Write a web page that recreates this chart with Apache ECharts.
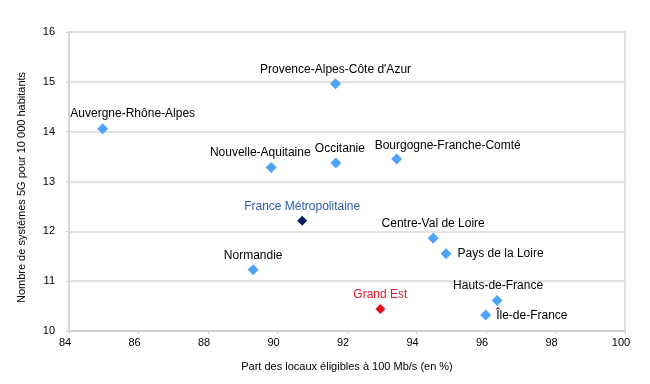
<!DOCTYPE html>
<html>
<head>
<meta charset="utf-8">
<script src="https://cdn.jsdelivr.net/npm/echarts@6/dist/echarts.min.js"></script>
<style>html,body{margin:0;padding:0;background:#fff}#c{width:650px;height:384px}</style>
</head>
<body>
<div id="c"></div>
<script>
const regions = ["Auvergne-Rhône-Alpes","Provence-Alpes-Côte d'Azur","Nouvelle-Aquitaine","Occitanie","Bourgogne-Franche-Comté","France Métropolitaine","Centre-Val de Loire","Pays de la Loire","Normandie","Hauts-de-France","Grand Est","Île-de-France"];
const eligible = [84.97, 91.67, 89.82, 91.68, 93.43, 90.71, 94.48, 94.85, 89.30, 96.32, 92.96, 95.99];
const systems5G = [14.06, 14.96, 13.28, 13.37, 13.45, 12.21, 11.86, 11.55, 11.23, 10.61, 10.44, 10.32];
const xTicks = [84, 86, 88, 90, 92, 94, 96, 98, 100];
const yTicks = [10, 11, 12, 13, 14, 15, 16];

// styling (not data)
const FONT = '"Liberation Sans", Arial, sans-serif';
const BLUE = '#4da3f7';
const special = {
  "France Métropolitaine": {marker: '#0b1f5e', text: '#2f5aa8'},
  "Grand Est": {marker: '#e3101c', text: '#e8192c'}
};
const labelTweaks = {
  "Auvergne-Rhône-Alpes": {offset: [30, 0]},
  "Nouvelle-Aquitaine": {offset: [-11, 0]},
  "Occitanie": {offset: [4, 0]},
  "Bourgogne-Franche-Comté": {offset: [51, 1]},
  "Pays de la Loire": {position: 'right', distance: 6, offset: [0, 0]},
  "Île-de-France": {position: 'right', distance: 5, offset: [0, 1]},
  "Hauts-de-France": {offset: [1, 0]}
};

const points = regions.map((name, i) => {
  const sp = special[name];
  const tw = labelTweaks[name] || {};
  return {
    name: name,
    value: [eligible[i], systems5G[i]],
    symbolSize: sp ? 10 : 11,
    itemStyle: {color: sp ? sp.marker : BLUE, opacity: 1},
    label: {
      show: true,
      formatter: name,
      position: tw.position || 'top',
      distance: tw.distance !== undefined ? tw.distance : 3,
      offset: tw.offset || [0, 0],
      color: sp ? sp.text : '#000',
      fontSize: 12,
      fontFamily: FONT
    }
  };
});

const chart = echarts.init(document.getElementById('c'), null, {renderer: 'canvas'});
chart.setOption({
  animation: false,
  backgroundColor: '#fff',
  grid: {left: 69, right: 25, top: 32, bottom: 53, show: true, borderColor: '#d9d9d9', borderWidth: 1.5, backgroundColor: 'transparent'},
  xAxis: {
    type: 'value', min: xTicks[0], max: xTicks[xTicks.length - 1], interval: 2,
    name: 'Part des locaux éligibles à 100 Mb/s (en %)',
    nameLocation: 'middle', nameGap: 30,
    nameTextStyle: {fontSize: 11, fontFamily: FONT, color: '#000'},
    axisLine: {show: true, lineStyle: {color: '#d0d0d0', width: 1.5}},
    axisTick: {show: true, length: 3, lineStyle: {color: '#d0d0d0'}},
    axisLabel: {fontSize: 11, fontFamily: FONT, color: '#000', margin: 6, padding: [0, 8, 0, 0]},
    splitLine: {show: false}
  },
  yAxis: {
    type: 'value', min: yTicks[0], max: yTicks[yTicks.length - 1], interval: 1,
    name: 'Nombre de systèmes 5G pour 10 000 habitants',
    nameLocation: 'middle', nameGap: 42,
    nameTextStyle: {fontSize: 11, fontFamily: FONT, color: '#000', padding: [0, 0, 0, -12]},
    axisLine: {show: true, lineStyle: {color: '#d0d0d0', width: 1.5}},
    axisTick: {show: true, length: 3, lineStyle: {color: '#d0d0d0'}},
    axisLabel: {fontSize: 11, fontFamily: FONT, color: '#000', margin: 14},
    splitLine: {show: true, lineStyle: {color: '#d9d9d9', width: 1.5}}
  },
  series: [{
    type: 'scatter',
    symbol: 'diamond',
    data: points
  }]
});
</script>
</body>
</html>
